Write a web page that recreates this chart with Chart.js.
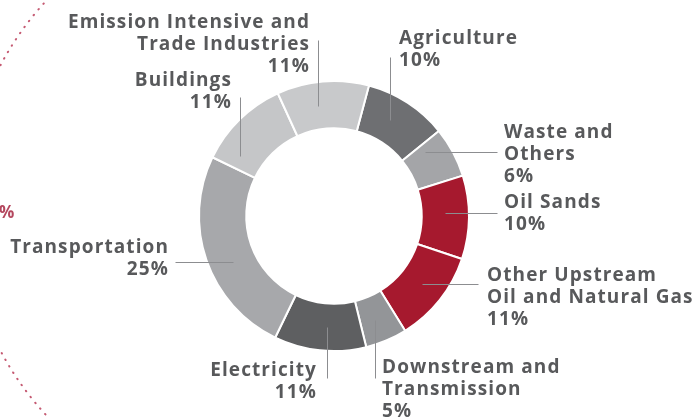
<!DOCTYPE html>
<html>
<head>
<meta charset="utf-8">
<script src="https://cdn.jsdelivr.net/npm/chart.js@4.4.1/dist/chart.umd.min.js"></script>
<style>
  html, body { margin: 0; padding: 0; background: #fff; }
  #wrap { position: relative; width: 697px; height: 418px; }
</style>
</head>
<body>
<div id="wrap"><canvas id="emissionsChart"></canvas></div>
<script>
// Sector names (split the way they are printed) and their share of emissions, %
const sectorLines = [
  ['Agriculture'],
  ['Waste and', 'Others'],
  ['Oil Sands'],
  ['Other Upstream', 'Oil and Natural Gas'],
  ['Downstream and', 'Transmission'],
  ['Electricity'],
  ['Transportation'],
  ['Buildings'],
  ['Emission Intensive and', 'Trade Industries']
];
const shares = [10, 6, 10, 11, 5, 11, 25, 11, 11];

const sliceColors = [
  '#6e6f72', '#a4a5a8', '#a6192e', '#a6192e', '#939598',
  '#5e5f61', '#a7a8ab', '#c5c6c8', '#c8c9cb'
];

// where each label sits, relative to the doughnut centre
// t = point along the slice the leader starts from
const labelLayout = [
  { dir: 'up',    t: 0.42, end: -159, x: 65,   y: -172, align: 'left' },
  { dir: 'right', t: 0.19, end: 163,  x: 170,  y: -78,  align: 'left' },
  { dir: 'right', t: 0.44, end: 163,  x: 170,  y: -8,   align: 'left' },
  { dir: 'right', t: 0.48, end: 144,  x: 153,  y: 65,   align: 'left' },
  { dir: 'down',  t: 0.57, end: 162,  x: 48,   y: 157,  align: 'left' },
  { dir: 'down',  t: 0.44, end: 162,  x: -17,  y: 160,  align: 'right' },
  { dir: 'left',  t: 0.44, end: -159, x: -165, y: 37,   align: 'right' },
  { dir: 'up',    t: 0.17, end: -119, x: -102, y: -130, align: 'right' },
  { dir: 'up',    t: 0.41, end: -176, x: -24,  y: -188, align: 'right' }
];

const labelFont = 'bold 19px "Open Sans", sans-serif';
const lineHeight = 22;

// Leader lines + sector labels
const sectorLabels = {
  id: 'sectorLabels',
  afterDatasetsDraw(chart) {
    const ctx = chart.ctx;
    const arcs = chart.getDatasetMeta(0).data;
    ctx.save();
    arcs.forEach(function (arc, i) {
      const lay = labelLayout[i];
      const a = arc.startAngle + lay.t * (arc.endAngle - arc.startAngle);
      const r = (arc.innerRadius + arc.outerRadius) / 2;
      const sx = arc.x + Math.cos(a) * r;
      const sy = arc.y + Math.sin(a) * r;
      let ex = sx, ey = sy;
      if (lay.dir === 'up' || lay.dir === 'down') ey = arc.y + lay.end;
      else ex = arc.x + lay.end;

      ctx.strokeStyle = '#8c8d90';
      ctx.lineWidth = 1;
      ctx.beginPath();
      ctx.moveTo(Math.round(sx) + 0.5, Math.round(sy) + 0.5);
      ctx.lineTo(Math.round(ex) + 0.5, Math.round(ey) + 0.5);
      ctx.stroke();

      const lines = sectorLines[i].concat([shares[i] + '%']);
      ctx.font = labelFont;
      ctx.letterSpacing = '1.1px';
      ctx.fillStyle = '#58595b';
      ctx.textAlign = lay.align;
      ctx.textBaseline = 'alphabetic';
      lines.forEach(function (txt, k) {
        ctx.fillText(txt, arc.x + lay.x, arc.y + lay.y + k * lineHeight);
      });
    });
    ctx.restore();
  }
};

// Bits of the surrounding infographic: dotted ring edge and a cut-off figure
const backdrop = {
  id: 'backdrop',
  beforeDraw(chart) {
    const ctx = chart.ctx;
    ctx.save();
    ctx.strokeStyle = '#c55a72';
    ctx.lineWidth = 2;
    ctx.lineCap = 'round';
    ctx.setLineDash([0.5, 7]);
    ctx.beginPath();
    ctx.arc(270, 208, 305, Math.PI * 0.74, Math.PI * 1.26);
    ctx.stroke();
    ctx.setLineDash([]);
    ctx.font = 'bold 17px "Open Sans", sans-serif';
    ctx.fillStyle = '#b4475e';
    ctx.textAlign = 'left';
    ctx.fillText('%', -1, 218);
    ctx.restore();
  }
};

new Chart(document.getElementById('emissionsChart'), {
  type: 'doughnut',
  data: {
    labels: sectorLines.map(l => l.join(' ')),
    datasets: [{
      data: shares,
      backgroundColor: sliceColors,
      borderColor: '#ffffff',
      borderWidth: 2
    }]
  },
  options: {
    responsive: true,
    maintainAspectRatio: false,
    animation: false,
    rotation: 15,
    cutout: '65%',
    layout: { padding: { left: 198, right: 227, top: 80, bottom: 66 } },
    plugins: {
      legend: { display: false },
      tooltip: { enabled: false }
    }
  },
  plugins: [backdrop, sectorLabels]
});
</script>
</body>
</html>
